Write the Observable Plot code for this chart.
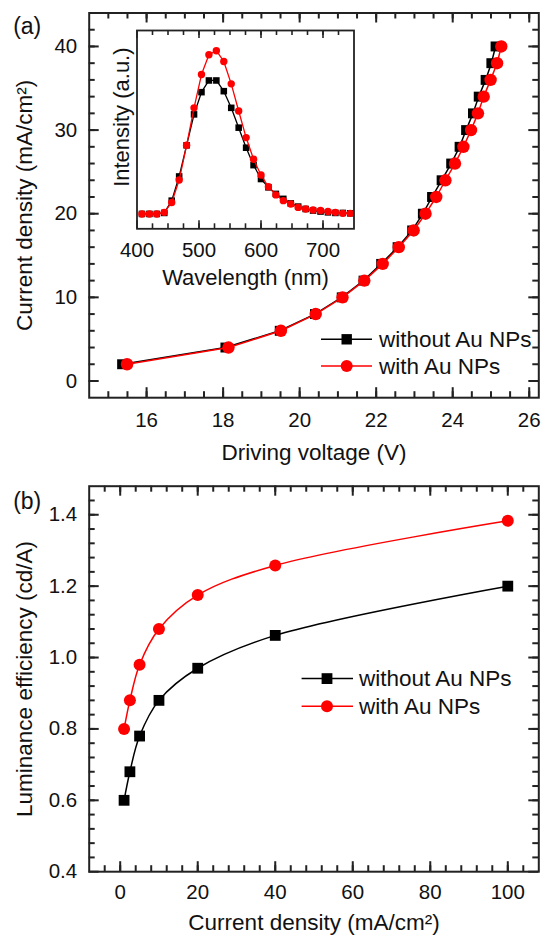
<!DOCTYPE html>
<html>
<head>
<meta charset="utf-8">
<script src="https://cdn.jsdelivr.net/npm/d3@7"></script>
<script src="https://cdn.jsdelivr.net/npm/@observablehq/plot@0.6"></script>
<style>
  html, body { margin: 0; padding: 0; background: #fff; }
  #root { position: relative; width: 542px; height: 936px; overflow: hidden; background: #fff;
          font-family: Arial, "Liberation Sans", sans-serif; }
  #root > svg, #root > figure { position: absolute; margin: 0; }
</style>
</head>
<body>
<div id="root"></div>
<script>
// ---------- Panel (a): J–V data ----------
const jvCurrent = [2, 4, 6, 8, 10, 12, 14, 16, 18, 20, 22, 24, 26, 28, 30, 32, 34, 36, 38, 40];
const jvVoltageWithout = [15.36, 18.06, 19.48, 20.40, 21.10, 21.67, 22.13, 22.56, 22.94, 23.22,
                          23.46, 23.71, 23.96, 24.18, 24.35, 24.53, 24.68, 24.86, 25.01, 25.12];
const jvVoltageWith = [15.49, 18.14, 19.51, 20.42, 21.12, 21.69, 22.17, 22.59, 22.98, 23.29,
                       23.57, 23.81, 24.06, 24.28, 24.48, 24.66, 24.81, 24.99, 25.16, 25.27];
const jvXTicks = [16, 18, 20, 22, 24, 26];
const jvYTicks = [0, 10, 20, 30, 40];

// ---------- Inset: EL spectra ----------
const wavelength = [408, 420, 432, 444, 456, 468, 480, 492, 504, 516, 528, 540, 552, 564, 576,
                    588, 600, 612, 624, 636, 648, 660, 672, 684, 696, 708, 720, 732, 744];
const intensityWithout = [7.5, 7.5, 7.5, 8.0, 14.2, 26.4, 42.1, 57.7, 68.9, 74.8, 74.8, 69.4, 61.0, 51.0, 40.9,
                          32.1, 25.1, 20.9, 17.6, 15.1, 12.8, 11.2, 10.0, 9.2, 8.7, 8.3, 8.0, 8.0, 7.8];
const intensityWith = [7.5, 7.5, 7.5, 8.3, 13.3, 24.6, 42.1, 61.0, 77.8, 87.8, 89.8, 84.4, 73.1, 59.4, 46.0,
                       35.1, 27.1, 21.2, 17.1, 14.2, 12.5, 10.8, 10.0, 9.5, 9.2, 8.7, 8.3, 7.8, 7.8];
const wlTicks = [400, 500, 600, 700];

// ---------- Panel (b): luminance efficiency ----------
const effCurrent = [1, 2.5, 5, 10, 20, 40, 100];
const effWithout = [0.60, 0.68, 0.78, 0.88, 0.97, 1.062, 1.20];
const effWith = [0.80, 0.88, 0.98, 1.08, 1.175, 1.258, 1.383];
const effXTicks = [0, 20, 40, 60, 80, 100];
const effYTicks = [0.4, 0.6, 0.8, 1.0, 1.2, 1.4];

const seriesNames = ["without Au NPs", "with Au NPs"];
const seriesColors = ["#000000", "#ff0000"];

// ---------- helpers ----------
const FONT = 'Arial, "Liberation Sans", sans-serif';
const INK = "#111";
const FRAME = "#222";
const root = document.getElementById("root");

function place(el, left, top) {
  el.style.left = left + "px";
  el.style.top = top + "px";
  root.appendChild(el);
}

// Inward ticks as short rules hugging the frame; lengths in px converted to
// data units of the perpendicular scale.
function inwardTicks(cfg, values, axis, sides, size, sw) {
  const [x0, x1] = cfg.xd, [y0, y1] = cfg.yd;
  const fw = cfg.w - cfg.ml - cfg.mr, fh = cfg.h - cfg.mt - cfg.mb;
  const ky = (y1 - y0) / fh * size, kx = (x1 - x0) / fw * size;
  return sides.map(side => {
    if (axis === "x") {
      const a = side === "bottom" ? y0 : y1, b = side === "bottom" ? y0 + ky : y1 - ky;
      return Plot.ruleX(values, {x: d => d, y1: () => a, y2: () => b, stroke: FRAME, strokeWidth: sw});
    } else {
      const a = side === "left" ? x0 : x1, b = side === "left" ? x0 + kx : x1 - kx;
      return Plot.ruleY(values, {y: d => d, x1: () => a, x2: () => b, stroke: FRAME, strokeWidth: sw});
    }
  });
}
function tickLabels(values, axis, anchor, pad, fs, fmt) {
  const make = axis === "x" ? Plot.axisX : Plot.axisY;
  return make(values, {anchor, tickSize: 0, tickPadding: pad, fill: INK, fontSize: fs,
                       label: null, tickFormat: fmt});
}

const jvWithout = jvCurrent.map((j, i) => ({v: jvVoltageWithout[i], j}));
const jvWith = jvCurrent.map((j, i) => ({v: jvVoltageWith[i], j}));
const elWithout = wavelength.map((w, i) => ({w, I: intensityWithout[i]}));
const elWith = wavelength.map((w, i) => ({w, I: intensityWith[i]}));
const effW = effCurrent.map((j, i) => ({j, e: effWithout[i]}));
const effR = effCurrent.map((j, i) => ({j, e: effWith[i]}));

// ---------- Panel (a) ----------
const A = {w: 542, h: 470, ml: 88.7, mr: 3.7, mt: 12.5, mb: 72.8, xd: [14.5, 26.25], yd: [-2, 44]};
const plotA = Plot.plot({
  width: A.w, height: A.h,
  marginLeft: A.ml, marginRight: A.mr, marginTop: A.mt, marginBottom: A.mb,
  style: {background: "transparent", fontFamily: FONT, color: INK, overflow: "visible"},
  x: {domain: A.xd},
  y: {domain: A.yd},
  marks: [
    tickLabels(jvXTicks, "x", "bottom", 15, 20.5),
    tickLabels(jvYTicks, "y", "left", 12, 20.5),
    Plot.line(jvWithout, {x: "v", y: "j", stroke: seriesColors[0], strokeWidth: 1.5}),
    Plot.dot(jvWithout, {x: "v", y: "j", symbol: "square", r: 5.6, fill: seriesColors[0], stroke: "none"}),
    Plot.line(jvWith, {x: "v", y: "j", stroke: seriesColors[1], strokeWidth: 1.5}),
    Plot.dot(jvWith, {x: "v", y: "j", symbol: "circle", r: 6.2, fill: seriesColors[1], stroke: "none"}),
    Plot.frame({stroke: FRAME, strokeWidth: 2}),
    ...inwardTicks(A, d3.range(15, 26.1, 0.5), "x", ["bottom", "top"], 6, 2),
    ...inwardTicks(A, jvXTicks, "x", ["bottom", "top"], 10, 2),
    ...inwardTicks(A, d3.range(0, 42.1, 2), "y", ["left", "right"], 6, 2),
    ...inwardTicks(A, jvYTicks, "y", ["left", "right"], 10, 2),
    Plot.text(["Driving voltage (V)"], {text: d => d, frameAnchor: "bottom", textAnchor: "middle",
      lineAnchor: "bottom", dy: 62.5, fontSize: 22.5, fill: INK}),
    Plot.text(["Current density (mA/cm²)"], {text: d => d, frameAnchor: "left", textAnchor: "middle",
      lineAnchor: "top", rotate: -90, dx: -73, fontSize: 22.5, fill: INK}),
    Plot.text(["(a)"], {text: d => d, frameAnchor: "top-left", textAnchor: "middle",
      lineAnchor: "middle", dx: -62, dy: 14, fontSize: 23, fill: INK})
  ]
});
place(plotA, 0, 0);

// ---------- Inset ----------
const S = {w: 270, h: 280, ml: 36.5, mr: 16.5, mt: 12, mb: 69.7, xd: [400, 750], yd: [0, 100]};
const inset = Plot.plot({
  width: S.w, height: S.h,
  marginLeft: S.ml, marginRight: S.mr, marginTop: S.mt, marginBottom: S.mb,
  style: {background: "transparent", fontFamily: FONT, color: INK, overflow: "visible"},
  x: {domain: S.xd},
  y: {domain: S.yd, axis: null},
  marks: [
    tickLabels(wlTicks, "x", "bottom", 14, 20.5),
    Plot.line(elWithout, {x: "w", y: "I", stroke: seriesColors[0], strokeWidth: 1.3}),
    Plot.dot(elWithout, {x: "w", y: "I", symbol: "square", r: 3.7, fill: seriesColors[0], stroke: "none"}),
    Plot.line(elWith, {x: "w", y: "I", stroke: seriesColors[1], strokeWidth: 1.3}),
    Plot.dot(elWith, {x: "w", y: "I", symbol: "circle", r: 3.7, fill: seriesColors[1], stroke: "none"}),
    Plot.frame({stroke: FRAME, strokeWidth: 1.8}),
    ...inwardTicks(S, d3.range(425, 726, 25), "x", ["bottom", "top"], 5, 1.6),
    ...inwardTicks(S, wlTicks, "x", ["bottom", "top"], 8, 1.6),
    Plot.text(["Wavelength (nm)"], {text: d => d, frameAnchor: "bottom", textAnchor: "middle",
      lineAnchor: "bottom", dy: 55.7, fontSize: 22, fill: INK}),
    Plot.text(["Intensity (a.u.)"], {text: d => d, frameAnchor: "left", textAnchor: "middle",
      lineAnchor: "top", rotate: -90, dx: -23.5, dy: -12.5, fontSize: 22, fill: INK})
  ]
});
place(inset, 100, 18);

// ---------- Panel (b) ----------
const B = {w: 542, h: 466, ml: 88.7, mr: 3.7, mt: 15.7, mb: 64.8, xd: [-8, 108], yd: [0.4, 1.48]};
const plotB = Plot.plot({
  width: B.w, height: B.h,
  marginLeft: B.ml, marginRight: B.mr, marginTop: B.mt, marginBottom: B.mb,
  style: {background: "transparent", fontFamily: FONT, color: INK, overflow: "visible"},
  x: {domain: B.xd},
  y: {domain: B.yd},
  marks: [
    tickLabels(effXTicks, "x", "bottom", 13, 20.5),
    tickLabels(effYTicks, "y", "left", 12, 20.5, d3.format(".1f")),
    Plot.line(effW, {x: "j", y: "e", stroke: seriesColors[0], strokeWidth: 1.5, curve: "catmull-rom"}),
    Plot.dot(effW, {x: "j", y: "e", symbol: "square", r: 6.1, fill: seriesColors[0], stroke: "none"}),
    Plot.line(effR, {x: "j", y: "e", stroke: seriesColors[1], strokeWidth: 1.5, curve: "catmull-rom"}),
    Plot.dot(effR, {x: "j", y: "e", symbol: "circle", r: 6, fill: seriesColors[1], stroke: "none"}),
    Plot.frame({stroke: FRAME, strokeWidth: 2}),
    ...inwardTicks(B, d3.range(-4, 104.1, 4), "x", ["bottom", "top"], 6, 2),
    ...inwardTicks(B, effXTicks, "x", ["bottom", "top"], 10, 2),
    ...inwardTicks(B, d3.range(0.44, 1.441, 0.04), "y", ["left", "right"], 6, 2),
    ...inwardTicks(B, effYTicks, "y", ["left", "right"], 10, 2),
    Plot.text(["Current density (mA/cm²)"], {text: d => d, frameAnchor: "bottom", textAnchor: "middle",
      lineAnchor: "bottom", dy: 58.3, fontSize: 22.5, fill: INK}),
    Plot.text(["Luminance efficiency (cd/A)"], {text: d => d, frameAnchor: "left", textAnchor: "middle",
      lineAnchor: "top", rotate: -90, dx: -73, fontSize: 22.5, fill: INK}),
    Plot.text(["(b)"], {text: d => d, frameAnchor: "top-left", textAnchor: "middle",
      lineAnchor: "middle", dx: -62, dy: 15, fontSize: 23, fill: INK})
  ]
});
place(plotB, 0, 470);

// ---------- Legends (overlay) ----------
const legendSpecs = [
  {rows: [339.3, 366], x0: 321, x1: 372, mx: 346.7, tx: 379, sq: 10.4, cr: 6},
  {rows: [678.6, 706.2], x0: 301.6, x1: 353, mx: 327, tx: 359, sq: 10.8, cr: 6}
];
const ov = d3.create("svg").attr("width", 542).attr("height", 936)
  .style("pointer-events", "none").style("font-family", FONT);
for (const L of legendSpecs) {
  L.rows.forEach((y, k) => {
    const g = ov.append("g");
    g.append("line").attr("x1", L.x0).attr("x2", L.x1).attr("y1", y).attr("y2", y)
      .attr("stroke", seriesColors[k]).attr("stroke-width", 1.5);
    if (k === 0) {
      g.append("rect").attr("x", L.mx - L.sq / 2).attr("y", y - L.sq / 2)
        .attr("width", L.sq).attr("height", L.sq).attr("fill", seriesColors[k]);
    } else {
      g.append("circle").attr("cx", L.mx).attr("cy", y).attr("r", L.cr).attr("fill", seriesColors[k]);
    }
    g.append("text").attr("x", L.tx).attr("y", y + 7.8).attr("font-size", 22.5)
      .attr("fill", INK).text(seriesNames[k]);
  });
}
place(ov.node(), 0, 0);
</script>
</body>
</html>
